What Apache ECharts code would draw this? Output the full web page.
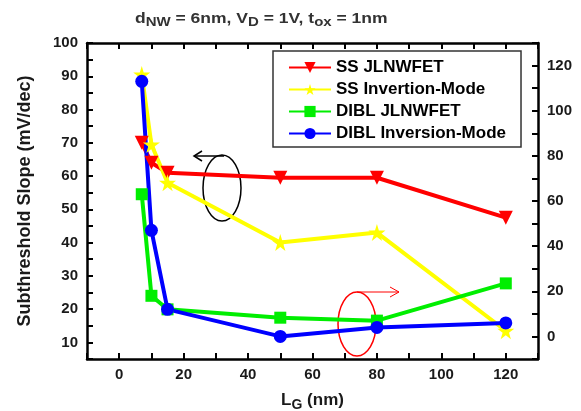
<!DOCTYPE html>
<html>
<head>
<meta charset="utf-8">
<script src="https://cdn.jsdelivr.net/npm/echarts@6/dist/echarts.min.js"></script>
<style>
  html, body { margin: 0; padding: 0; background: #fff; }
  #chart { width: 581px; height: 411px; }
</style>
</head>
<body>
<div id="chart"></div>
<script>
'use strict';

// gate length, nm
var gateLength = [7, 10, 15, 50, 80, 120];

// subthreshold slope, mV/dec (left axis)
var ssJunctionless = [70, 64, 61, 59.5, 59.5, 47.5];
var ssInversion = [90.5, 69.5, 58, 40, 43, 13.5];

// DIBL, mV/V (right axis)
var diblJunctionless = [63, 18, 12, 8.3, 7, 23.5];
var diblInversion = [113, 47, 12, 0, 4, 6];

var seriesNames = ['SS JLNWFET', 'SS Invertion-Mode', 'DIBL JLNWFET', 'DIBL Inversion-Mode'];

var starPath = 'path://M50,0 L61,35 L98,35 L68,57 L79,92 L50,70 L21,92 L32,57 L2,35 L39,35 Z';
var fontFamily = '"Liberation Sans", Arial, sans-serif';

function pairs(xs, ys) {
    return xs.map(function (x, i) { return [x, ys[i]]; });
}

function makeSeries(name, values, axisIdx, color, symbol, size, rotate) {
    return {
        name: name,
        type: 'line',
        yAxisIndex: axisIdx,
        data: pairs(gateLength, values),
        symbol: symbol,
        symbolSize: size,
        symbolRotate: rotate || 0,
        showAllSymbol: true,
        lineStyle: { color: color, width: 4 },
        itemStyle: { color: color },
        emphasis: { disabled: true },
        animation: false
    };
}

var axisLine = { show: true, onZero: false, lineStyle: { color: '#000', width: 2.5 } };
var tickStyle = { lineStyle: { color: '#000', width: 2 } };
var labelStyle = { color: '#1a1a1a', fontSize: 15, fontWeight: 'bold', fontFamily: fontFamily };

var chart = echarts.init(document.getElementById('chart'));

chart.setOption({
    backgroundColor: '#fff',
    grid: { left: 87, right: 43, top: 43, bottom: 52, outerBoundsMode: 'none', containLabel: false },
    legend: {
        data: seriesNames,
        orient: 'vertical',
        left: 273,
        top: 51,
        padding: [8, 15, 5, 15],
        itemGap: 5,
        itemWidth: 42,
        itemHeight: 14,
        borderColor: '#333',
        borderWidth: 1.5,
        backgroundColor: '#fff',
        selectedMode: false,
        textStyle: { color: '#000', fontSize: 17, lineHeight: 14, fontWeight: 'bold', fontFamily: fontFamily }
    },
    xAxis: [{
        type: 'value',
        min: -10,
        max: 130,
        interval: 10,
        name: 'L{sub|G} (nm)',
        nameLocation: 'middle',
        nameGap: 29,
        nameTextStyle: {
            color: '#1a1a1a', fontSize: 17, fontWeight: 'bold', fontFamily: fontFamily,
            rich: { sub: { fontSize: 14, fontWeight: 'bold', fontFamily: fontFamily, padding: [10, 0, 0, 0] } }
        },
        axisLine: axisLine,
        axisTick: Object.assign({ inside: true, length: 6 }, tickStyle),
        axisLabel: Object.assign({
            margin: 8,
            formatter: function (v) { return v % 20 === 0 && v >= 0 && v <= 120 ? v : ''; }
        }, labelStyle),
        splitLine: { show: false }
    }, {
        type: 'value',
        position: 'top',
        min: -10,
        max: 130,
        interval: 10,
        axisLine: axisLine,
        axisTick: Object.assign({ inside: true, length: 6 }, tickStyle),
        axisLabel: { show: false },
        splitLine: { show: false }
    }],
    yAxis: [{
        type: 'value',
        min: 5,
        max: 100,
        interval: 5,
        name: 'Subthreshold Slope (mV/dec)',
        nameLocation: 'middle',
        nameGap: 53,
        nameTextStyle: { color: '#1a1a1a', fontSize: 18, fontWeight: 'bold', fontFamily: fontFamily },
        axisLine: axisLine,
        axisTick: Object.assign({ inside: true, length: 6 }, tickStyle),
        axisLabel: Object.assign({
            margin: 9,
            formatter: function (v) { return v % 10 === 0 ? v : ''; }
        }, labelStyle),
        splitLine: { show: false }
    }, {
        type: 'value',
        position: 'right',
        min: -10,
        max: 130,
        interval: 10,
        axisLine: axisLine,
        axisTick: Object.assign({ inside: true, length: 6 }, tickStyle),
        axisLabel: Object.assign({
            margin: 9,
            formatter: function (v) { return v % 20 === 0 && v >= 0 && v <= 120 ? v : ''; }
        }, labelStyle),
        splitLine: { show: false }
    }],
    series: [
        makeSeries(seriesNames[0], ssJunctionless, 0, '#ff0000', 'triangle', 14, 180),
        makeSeries(seriesNames[1], ssInversion, 0, '#ffff00', starPath, 17),
        makeSeries(seriesNames[2], diblJunctionless, 1, '#00ee00', 'rect', 12),
        makeSeries(seriesNames[3], diblInversion, 1, '#0000ff', 'circle', 13)
    ],
    graphic: [
        {
            type: 'text',
            x: 135,
            y: 9,
            scaleX: 1.25,
            style: {
                text: 'd{sub|NW} = 6nm, V{sub|D} = 1V, t{sub|ox} = 1nm',
                fill: '#333',
                font: 'bold 14px ' + fontFamily,
                rich: { sub: { fontSize: 12, fontWeight: 'bold', fontFamily: fontFamily, fill: '#333', padding: [8, 0, 0, 0] } }
            }
        },
        // black ellipse + arrow (SS -> left axis)
        { type: 'ellipse', shape: { cx: 222, cy: 188, rx: 19, ry: 33 }, style: { fill: 'none', stroke: '#000', lineWidth: 1.5 } },
        { type: 'polyline', shape: { points: [[224, 156], [194, 156]] }, style: { stroke: '#000', lineWidth: 1.5 } },
        { type: 'polyline', shape: { points: [[202, 151], [194, 156], [202, 161]] }, style: { stroke: '#000', fill: 'none', lineWidth: 1.5 } },
        // red ellipse + arrow (DIBL -> right axis)
        { type: 'ellipse', shape: { cx: 357, cy: 324, rx: 19, ry: 32 }, style: { fill: 'none', stroke: '#ff0000', lineWidth: 1.5 } },
        { type: 'polyline', shape: { points: [[357, 292], [399, 292]] }, style: { stroke: '#ff0000', lineWidth: 1 } },
        { type: 'polyline', shape: { points: [[390, 287], [399, 292], [390, 297]] }, style: { stroke: '#ff0000', fill: 'none', lineWidth: 1 } }
    ]
});
</script>
</body>
</html>
